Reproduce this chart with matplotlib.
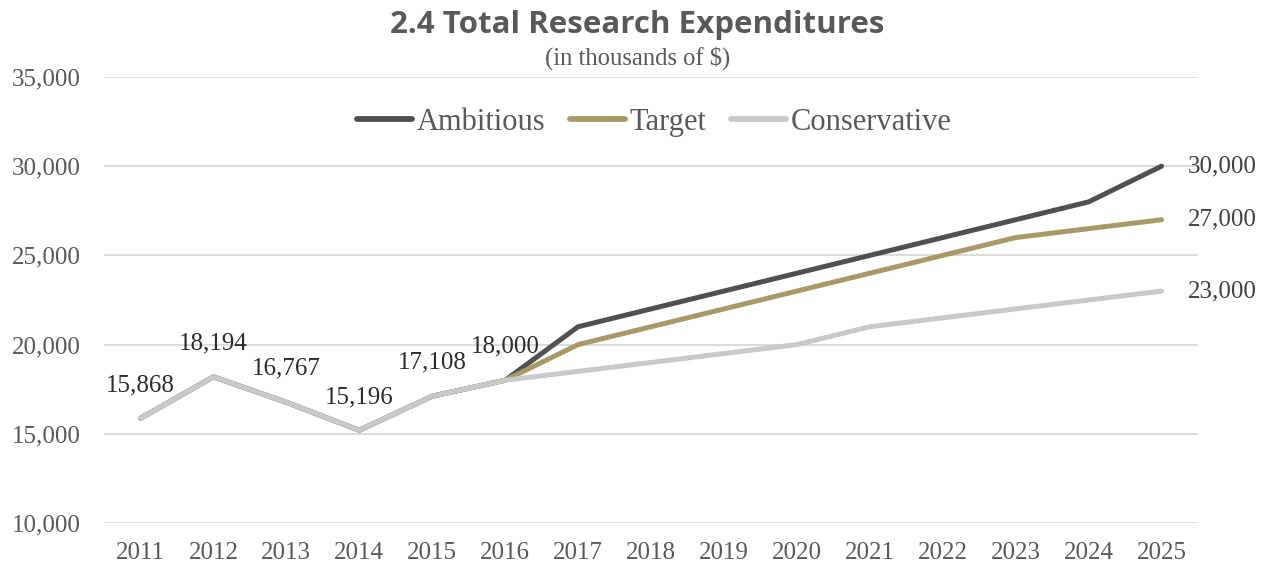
import numpy as np
import matplotlib
matplotlib.use("Agg")
import matplotlib.pyplot as plt
from matplotlib.ticker import FuncFormatter

# Research expenditures, thousands of dollars
years = list(range(2011, 2026))
history = [15868, 18194, 16767, 15196, 17108, 18000]
ambitious = history + [21000, 22000, 23000, 24000, 25000, 26000, 27000, 28000, 30000]
target = history + [20000, 21000, 22000, 23000, 24000, 25000, 26000, 26500, 27000]
conservative = history + [18500, 19000, 19500, 20000, 21000, 21500, 22000, 22500, 23000]

serif = "Liberation Serif"
grey_txt = "#595959"

fig = plt.figure(figsize=(12.7, 5.67), dpi=100)
ax = fig.add_axes([104/1270, 1-523/567, (1198-104)/1270, (523-77)/567])

ax.plot(years, ambitious, color="#505050", lw=3.6, solid_capstyle="round", label="Ambitious")
ax.plot(years, target, color="#A89A68", lw=3.6, solid_capstyle="round", label="Target")
ax.plot(years, conservative, color="#C9C9C9", lw=3.6, solid_capstyle="round", label="Conservative")

# labels on the historical points
for x, v in zip(years[:len(history)], history):
    ax.annotate(f"{v:,}", (x, v), xytext=(0, 24), textcoords="offset points",
                ha="center", va="center", fontsize=18, family=serif, color="#2b2b2b")

# labels at the end of each projection
for s in (ambitious, target, conservative):
    ax.annotate(f"{s[-1]:,}", (years[-1], s[-1]), xytext=(19, 0), textcoords="offset points",
                ha="left", va="center", fontsize=18, family=serif, color="#404040")

ax.set_xlim(2010.5, 2025.5)
ax.set_ylim(10000, 35000)
ax.set_yticks(np.arange(10000, 35001, 5000))
ax.set_xticks(years)
ax.yaxis.set_major_formatter(FuncFormatter(lambda v, p: f"{int(v):,}"))
ax.grid(axis="y", color="#D9D9D9", lw=1.3)
ax.set_axisbelow(True)
for sp in ax.spines.values():
    sp.set_visible(False)
ax.tick_params(length=0, labelsize=18, labelcolor=grey_txt)
ax.tick_params(axis="x", pad=14)
ax.tick_params(axis="y", pad=17)
for lbl in ax.get_xticklabels() + ax.get_yticklabels():
    lbl.set_family(serif)

leg = ax.legend(loc="center", bbox_to_anchor=(0.503, 0.899), ncol=3, frameon=False,
                handlelength=1.8, handletextpad=0.15, columnspacing=0.8,
                prop={"family": serif, "size": 22})
for t in leg.get_texts():
    t.set_color(grey_txt)
for h in leg.get_lines():
    h.set_linewidth(4.2)

fig.text(0.502, 1-25/567, "2.4 Total Research Expenditures", ha="center", va="center",
         fontsize=22.5, fontweight="bold", family="Open Sans", color=grey_txt)
fig.text(0.502, 1-58/567, "(in thousands of $)", ha="center", va="center",
         fontsize=17.7, family=serif, color=grey_txt)

fig.savefig("out.png", dpi=100)
